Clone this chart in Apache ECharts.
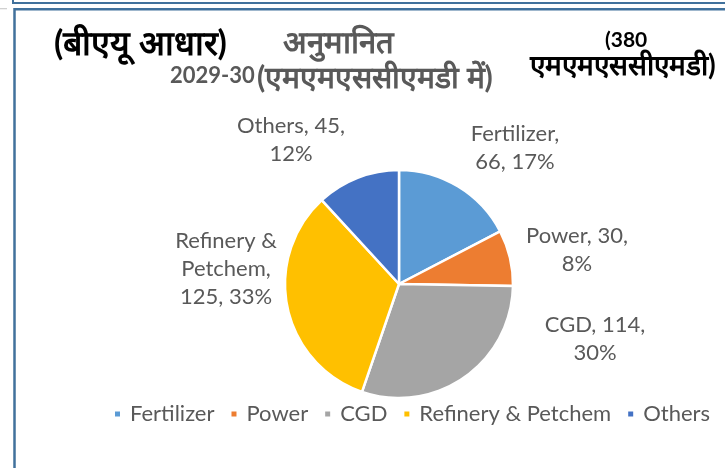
<!DOCTYPE html>
<html>
<head>
<meta charset="utf-8">
<script src="https://cdn.jsdelivr.net/npm/echarts@6/dist/echarts.min.js"></script>
<style>
  html, body { margin: 0; padding: 0; background: #fff; }
  #chart { width: 725px; height: 468px; }
</style>
</head>
<body>
<div id="chart"></div>
<script>
// Gas demand by sector, 2029-30 (MMSCMD)
const categories = ['Fertilizer', 'Power', 'CGD', 'Refinery & Petchem', 'Others'];
const demand = [66, 30, 114, 125, 45];
const colors = ['#5B9BD5', '#ED7D31', '#A5A5A5', '#FFC000', '#4472C4'];

// how each slice label wraps: 0 = break after name, 1 = break after value, 2 = name split in two lines
const labelWrap = [0, 1, 1, 2, 1];
// label anchor points (centre of the text block)
const labelAnchor = [[515, 148], [577, 250], [595, 339], [226, 269], [291, 140]];

const FONT = 'Lato, "Open Sans", sans-serif';
const GREY = '#595959';

function sliceLabel(p) {
  const pct = Math.round(p.percent) + '%';
  const w = labelWrap[p.dataIndex];
  if (w === 0) return p.name + ',\n' + p.value + ', ' + pct;
  if (w === 2) return p.name.replace(' & ', ' &\n') + ',\n' + p.value + ', ' + pct;
  return p.name + ', ' + p.value + ',\n' + pct;
}

function title(x, y, text, color, size) {
  return {
    type: 'text', x: x, y: y,
    style: { text: text, fill: color, font: 'bold ' + size + 'px ' + FONT, verticalAlign: 'middle', align: 'left' }
  };
}

const chart = echarts.init(document.getElementById('chart'), null, { renderer: 'canvas' });

chart.setOption({
  animation: false,
  backgroundColor: '#fff',
  color: colors,
  legend: {
    left: 108,
    top: 398,
    icon: 'rect',
    itemWidth: 7,
    itemHeight: 7,
    itemGap: 15,
    textStyle: { color: GREY, fontFamily: FONT, fontSize: 22, padding: [0, 0, 0, 4] },
    data: categories
  },
  graphic: [
    { type: 'rect', shape: { x: 13, y: -4, width: 720, height: 7 }, style: { fill: 'none', stroke: '#41719C', lineWidth: 2 } },
    { type: 'rect', shape: { x: 14.5, y: 9.3, width: 720, height: 470 }, style: { fill: 'none', stroke: '#41719C', lineWidth: 2.5 } },
    { type: 'rect', shape: { x: 0, y: 8, width: 7, height: 1.3 }, style: { fill: '#D0D0D0' } },
    title(54, 44, '(बीएयू आधार)', '#000', 34),
    title(283, 43, 'अनुमानित', GREY, 31),
    title(170, 76, '2029-30', GREY, 22),
    title(257, 78, '(एमएमएससीएमडी में)', GREY, 30),
    title(605, 40, '(380', '#000', 21),
    title(530, 66, 'एमएमएससीएमडी)', '#000', 28)
  ],
  series: [{
    type: 'pie',
    center: [399, 284],
    radius: 114,
    startAngle: 90,
    clockwise: true,
    itemStyle: { borderColor: '#fff', borderWidth: 2.5 },
    label: {
      show: true,
      position: 'outside',
      formatter: sliceLabel,
      color: GREY,
      fontFamily: FONT,
      fontSize: 22,
      lineHeight: 28
    },
    labelLine: { show: false },
    labelLayout: function (p) {
      const a = labelAnchor[p.dataIndex];
      return { x: a[0], y: a[1], align: 'center', verticalAlign: 'middle' };
    },
    data: categories.map((c, i) => ({ name: c, value: demand[i] }))
  }]
});
</script>
</body>
</html>
